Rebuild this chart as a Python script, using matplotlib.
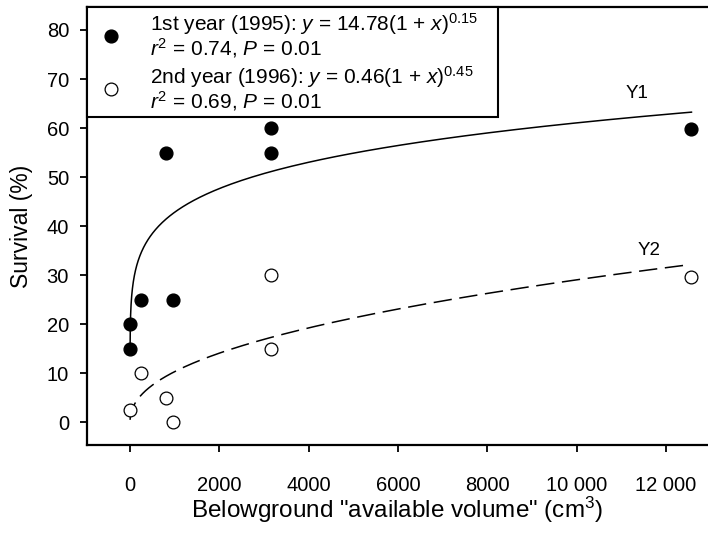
import numpy as np
import matplotlib
matplotlib.use("Agg")
import matplotlib.pyplot as plt
from matplotlib.lines import Line2D

plt.rcParams['font.family'] = ['Liberation Sans', 'DejaVu Sans']
plt.rcParams['mathtext.fontset'] = 'custom'
plt.rcParams['mathtext.rm'] = 'Liberation Sans'
plt.rcParams['mathtext.it'] = 'Liberation Sans:italic'

# ---- data ----
x_1995 = [0, 0, 250, 800, 950, 3150, 3150, 12570]
y_1995 = [15, 20, 25, 55, 25, 55, 60, 59.7]
x_1996 = [0, 250, 800, 950, 3150, 3150, 12570]
y_1996 = [2.5, 10, 5, 0, 15, 30, 29.7]

# fitted curves y = a(1+x)^b (drawn curve coefficients)
fit1_a, fit1_b, fit1_xmax = 14.78, 0.154, 12570
fit2_a, fit2_b, fit2_xmax = 0.46, 0.45, 12460

xticks = [0, 2000, 4000, 6000, 8000, 10000, 12000]
xticklabels = ['0', '2000', '4000', '6000', '8000', '10 000', '12 000']
yticks = [0, 10, 20, 30, 40, 50, 60, 70, 80]

label1 = ('1st year (1995): $y$ = 14.78(1 + $x$)$^{0.15}$\n'
          '$r^2$ = 0.74, $P$ = 0.01')
label2 = ('2nd year (1996): $y$ = 0.46(1 + $x$)$^{0.45}$\n'
          '$r^2$ = 0.69, $P$ = 0.01')

fig = plt.figure(figsize=(7.08, 5.35), dpi=100)
ax = fig.add_axes([0.123, 0.168, 0.877, 0.819])

xs1 = np.concatenate([[0], np.geomspace(0.01, fit1_xmax, 600)])
xs2 = np.concatenate([[0], np.geomspace(0.01, fit2_xmax, 600)])
ax.plot(xs1, fit1_a * (1 + xs1) ** fit1_b, color='black', lw=1.1, zorder=2)
ax.plot(xs2, fit2_a * (1 + xs2) ** fit2_b, color='black', lw=1.1,
        dashes=(12, 5), zorder=2)

ax.plot(x_1995, y_1995, 'o', ms=9.2, mfc='black', mec='black', ls='none', zorder=3)
ax.plot(x_1996, y_1996, 'o', ms=9.2, mfc='white', mec='black', mew=0.9,
        ls='none', zorder=3)

ax.text(11340, 67, 'Y1', fontsize=13.5, ha='center', va='center')
ax.text(11630, 35, 'Y2', fontsize=13.5, ha='center', va='center')

ax.set_xlim(-963, 12940)
ax.set_ylim(-4.7, 84.7)
ax.set_xticks(xticks)
ax.set_xticklabels(xticklabels)
ax.set_yticks(yticks)
ax.tick_params(direction='out', length=5, width=1.3, labelsize=14.5, pad=8)
ax.tick_params(axis='x', pad=17)
for s in ['left', 'bottom', 'top']:
    ax.spines[s].set_linewidth(1.6)
ax.spines['right'].set_visible(False)

ax.set_xlabel('Belowground "available volume" (cm$^3$)', fontsize=17.5, labelpad=0)
ax.set_ylabel('Survival (%)', fontsize=16.5, labelpad=10)

h1 = Line2D([], [], marker='o', ms=9.2, mfc='black', mec='black', ls='none')
h2 = Line2D([], [], marker='o', ms=9.2, mfc='white', mec='black', mew=0.9, ls='none')
leg = ax.legend([h1, h2], [label1, label2], loc='upper left',
                bbox_to_anchor=(0, 0, 0.662, 1), mode='expand',
                borderaxespad=0, fancybox=False, fontsize=15,
                handletextpad=0.9, handlelength=1.9, labelspacing=0.2,
                borderpad=0.2, framealpha=1)
leg.get_frame().set_edgecolor('black')
leg.get_frame().set_linewidth(1.5)
for t in leg.get_texts():
    t.set_linespacing(0.95)

fig.savefig('out.png', dpi=100)
